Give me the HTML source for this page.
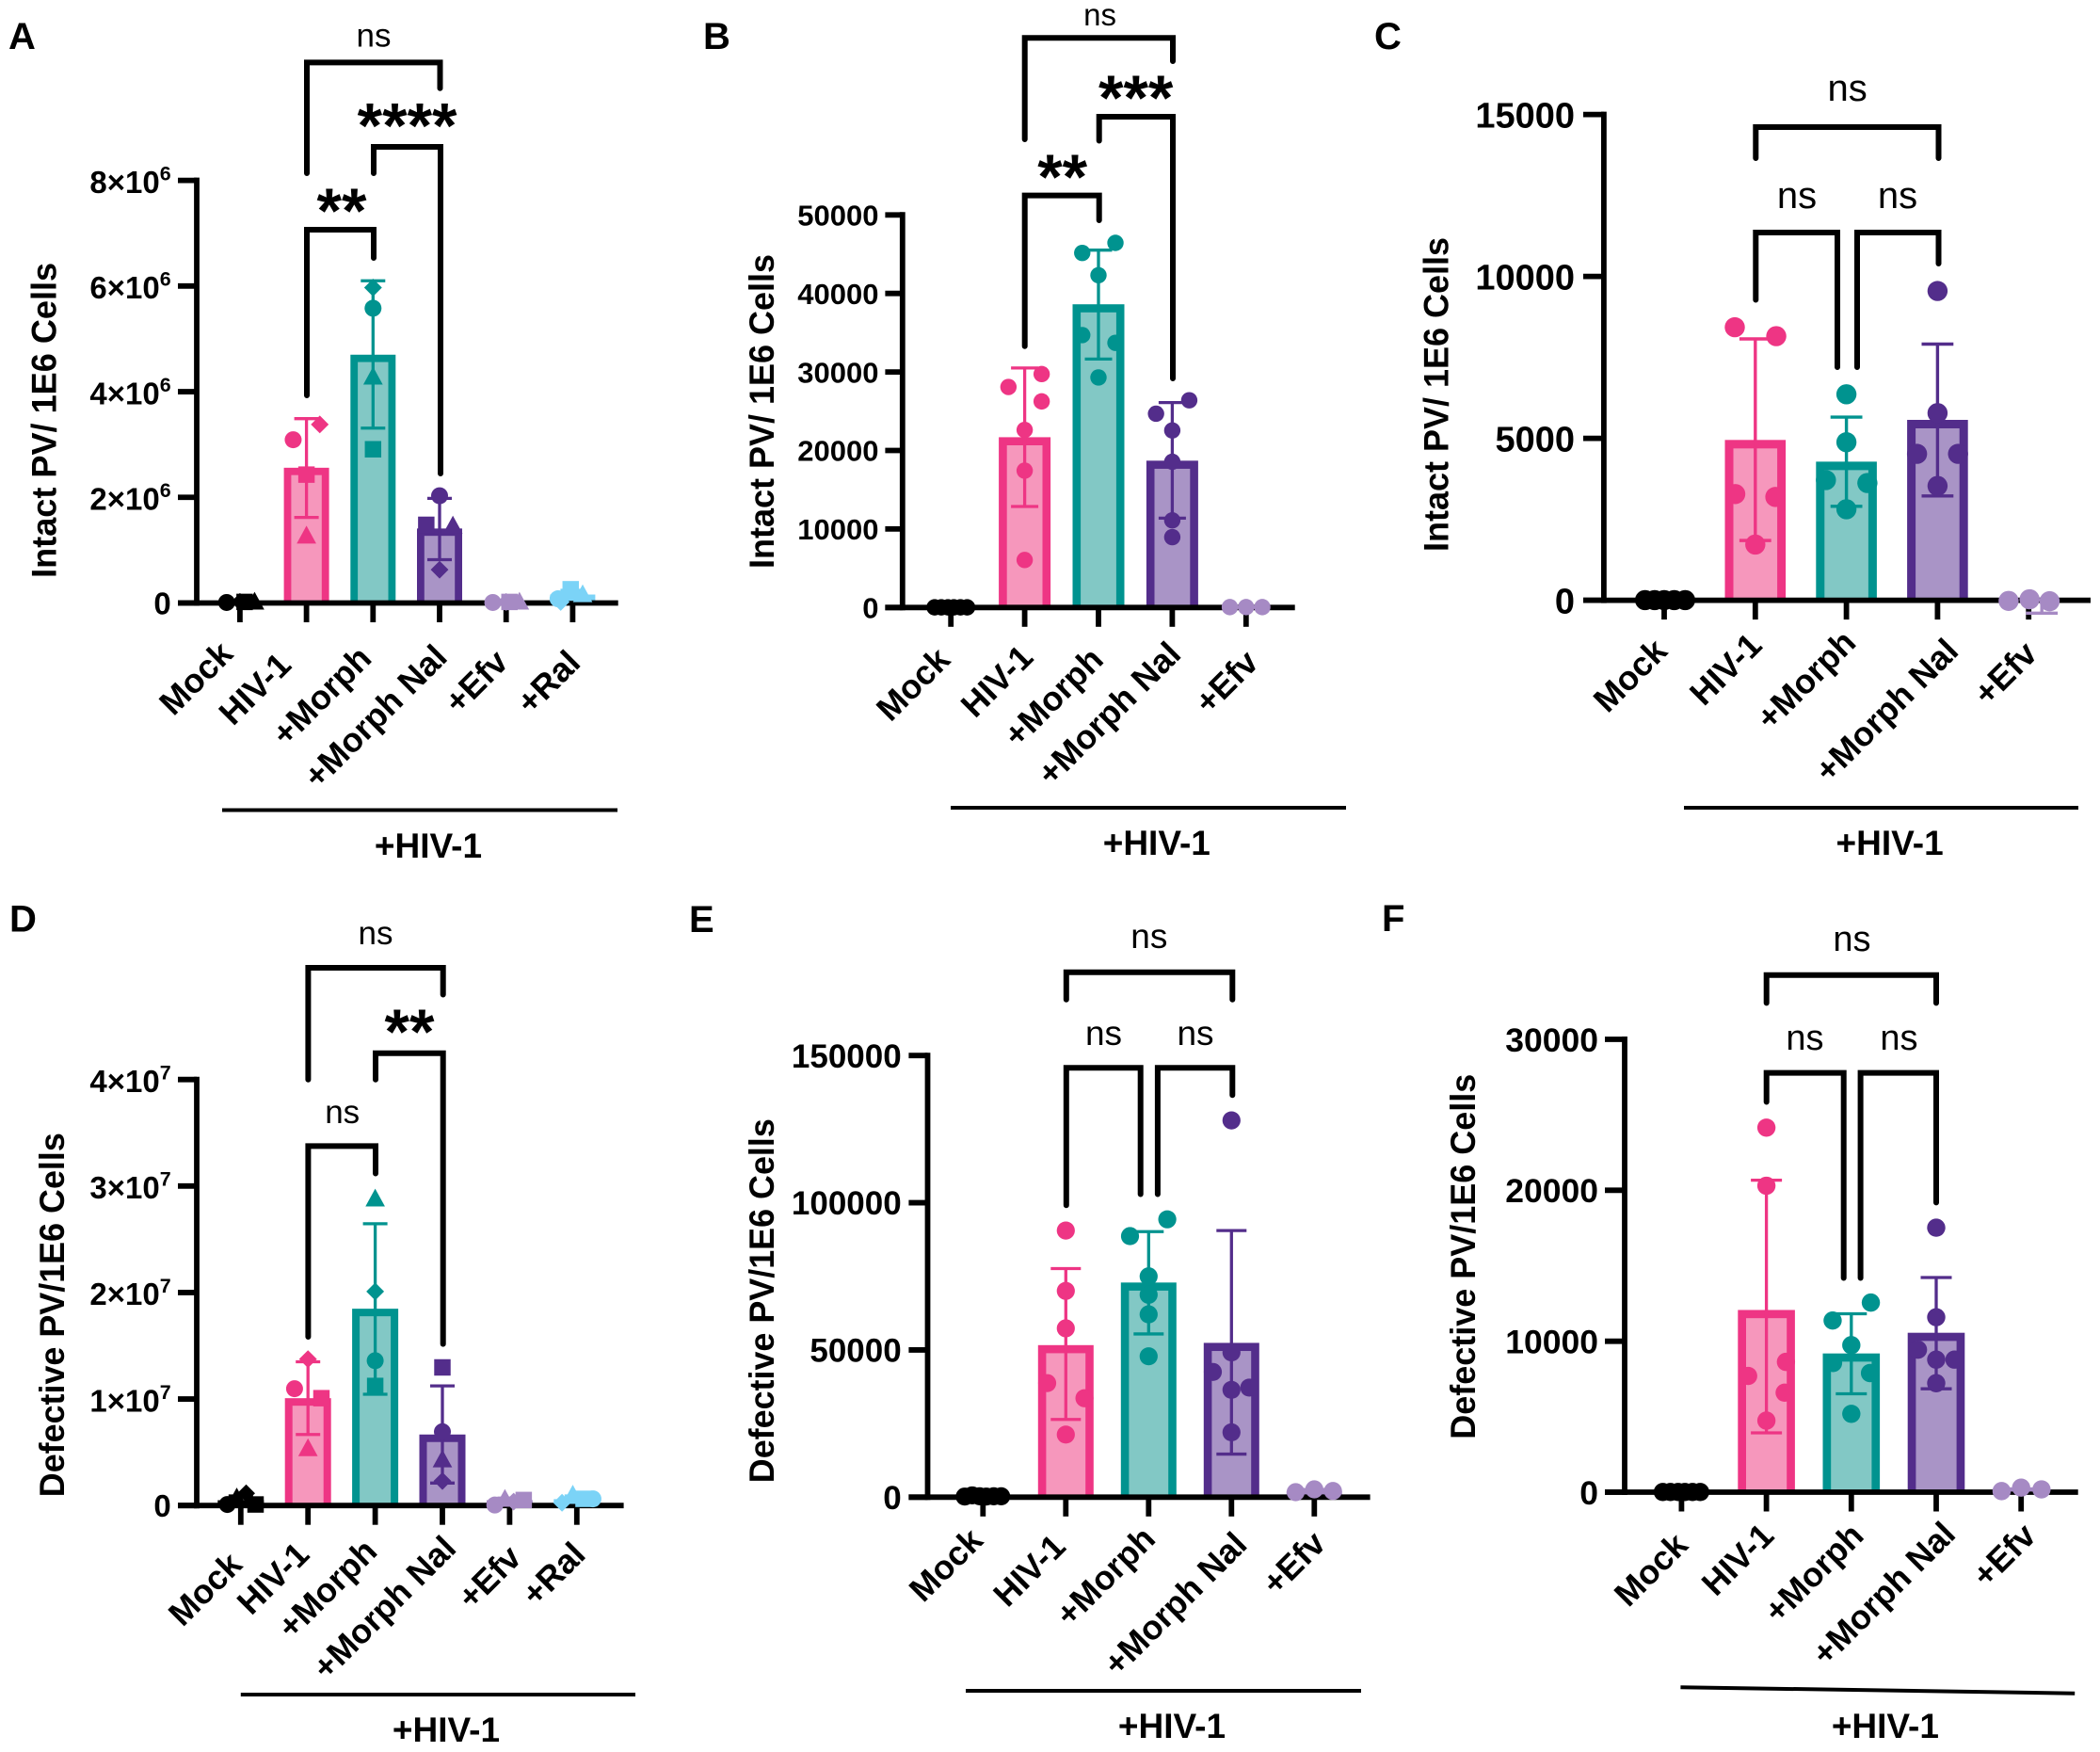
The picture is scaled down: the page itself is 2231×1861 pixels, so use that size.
<!DOCTYPE html>
<html lang="en">
<head>
<meta charset="utf-8">
<title>Intact and defective PV per 1E6 cells</title>
<style>
html,body{margin:0;padding:0;background:#fff;width:2231px;height:1861px;overflow:hidden}
svg{display:block;font-family:"Liberation Sans",sans-serif}
.letter{font-weight:700;font-size:40px}
.ytitle{font-weight:700;font-size:37px;text-anchor:middle}
.ns{font-size:35px;text-anchor:middle}
.stars{font-size:68px;font-weight:700;text-anchor:middle}
.group{font-size:37px;font-weight:700;text-anchor:middle}
.br{fill:none;stroke:#000;stroke-width:6;stroke-linecap:round;stroke-linejoin:miter}
.gl{stroke:#000;stroke-width:4;fill:none}
</style>
</head>
<body>
<svg id="fig" width="2231" height="1861" viewBox="0 0 2231 1861">
<rect width="2231" height="1861" fill="#fff"/>

<g id="panel-a">
<text class="letter" x="9" y="52">A</text>
<text class="ytitle" transform="translate(59.7 446.4) rotate(-90)" textLength="335" lengthAdjust="spacingAndGlyphs">Intact PV/ 1E6 Cells</text>
<path class="br" d="M326 184V66.4H467.5V93.7"/>
<path class="br" d="M397 184V156H468V503"/>
<path class="br" d="M326 420V244H397V274"/>
<text class="ns" x="397" y="49.5">ns</text>
<text class="stars" x="432.6" y="156.5">****</text>
<text class="stars" x="363" y="247">**</text>
<line class="gl" x1="236" y1="860.5" x2="656" y2="860.5"/>
<text class="group" x="455" y="911">+HIV-1</text>
</g>

<g id="panel-b">
<text class="letter" x="747" y="52">B</text>
<text class="ytitle" transform="translate(822 437) rotate(-90)" textLength="334" lengthAdjust="spacingAndGlyphs">Intact PV/ 1E6 Cells</text>
<path class="br" d="M1088.7 148V40.3H1246V65"/>
<path class="br" d="M1167.7 149.5V124H1246V402"/>
<path class="br" d="M1088.7 367.7V207.6H1167.7V234"/>
<text class="ns" x="1168.6" y="27" style="font-size:33px">ns</text>
<text class="stars" x="1206.7" y="127">***</text>
<text class="stars" x="1128.7" y="211">**</text>
<line class="gl" x1="1010" y1="858" x2="1430" y2="858"/>
<text class="group" x="1228.8" y="908">+HIV-1</text>
</g>

<g id="panel-c">
<text class="letter" x="1460" y="52">C</text>
<text class="ytitle" transform="translate(1538.4 419) rotate(-90)" textLength="334" lengthAdjust="spacingAndGlyphs">Intact PV/ 1E6 Cells</text>
<path class="br" d="M1865.3 168V135H2059.5V168"/>
<path class="br" d="M1865.3 318.5V247H1952V390"/>
<path class="br" d="M1973 390V247H2059.5V280"/>
<text class="ns" x="1962.6" y="107" style="font-size:40px">ns</text>
<text class="ns" x="1909" y="221" style="font-size:40px">ns</text>
<text class="ns" x="2016" y="221" style="font-size:40px">ns</text>
<line class="gl" x1="1789" y1="858" x2="2208" y2="858"/>
<text class="group" x="2007.6" y="908">+HIV-1</text>
</g>

<g id="panel-d">
<text class="letter" x="10" y="989.5">D</text>
<text class="ytitle" transform="translate(68 1396.7) rotate(-90)" textLength="387" lengthAdjust="spacingAndGlyphs">Defective PV/1E6 Cells</text>
<path class="br" d="M327.4 1146.7V1028H470.7V1056.5"/>
<path class="br" d="M399 1146.7V1118.8H470.7V1427.6"/>
<path class="br" d="M327.4 1420V1217.4H399V1246.5"/>
<text class="ns" x="399" y="1003">ns</text>
<text class="stars" x="435" y="1119">**</text>
<text class="ns" x="363.7" y="1193">ns</text>
<line class="gl" x1="255.8" y1="1800" x2="675" y2="1800"/>
<text class="group" x="474" y="1850">+HIV-1</text>
</g>

<g id="panel-e">
<text class="letter" x="732" y="990">E</text>
<text class="ytitle" transform="translate(821.9 1381.7) rotate(-90)" textLength="387" lengthAdjust="spacingAndGlyphs">Defective PV/1E6 Cells</text>
<path class="br" d="M1132.8 1061.8V1032.7H1309.3V1061.8"/>
<path class="br" d="M1132.8 1280.3V1134.3H1211.7V1268.5"/>
<path class="br" d="M1229.9 1268.5V1134.3H1309.3V1163.3"/>
<text class="ns" x="1220.8" y="1007" style="font-size:37px">ns</text>
<text class="ns" x="1172.5" y="1110" style="font-size:37px">ns</text>
<text class="ns" x="1270" y="1110" style="font-size:37px">ns</text>
<line class="gl" x1="1026" y1="1796" x2="1446" y2="1796"/>
<text class="group" x="1245" y="1846">+HIV-1</text>
</g>

<g id="panel-f">
<text class="letter" x="1468" y="989">F</text>
<text class="ytitle" transform="translate(1567 1334.7) rotate(-90)" textLength="388" lengthAdjust="spacingAndGlyphs">Defective PV/1E6 Cells</text>
<path class="br" d="M1876.7 1065.4V1035.7H2057V1065.4"/>
<path class="br" d="M1876.7 1170.5V1139.6H1958.7V1357.5"/>
<path class="br" d="M1976.6 1357.5V1139.6H2057V1277.4"/>
<text class="ns" x="1967.4" y="1010" style="font-size:38px">ns</text>
<text class="ns" x="1917.5" y="1115" style="font-size:38px">ns</text>
<text class="ns" x="2017.4" y="1115" style="font-size:38px">ns</text>
<line class="gl" x1="1785.4" y1="1792.2" x2="2204.2" y2="1798.7"/>
<text class="group" x="2002.9" y="1846">+HIV-1</text>
</g>
</svg>

<script>
/* ---------- Panel A ---------- */
const aCategories = ['Mock', 'HIV-1', '+Morph', '+Morph Nal', '+Efv', '+Ral'];
const aYTicks = [0, 2000000, 4000000, 6000000, 8000000];
const aMeans = [20000, 2560000, 4700000, 1410000, 20000, 160000];
const aErrHigh = [30000, 3490000, 6100000, 1980000, 30000, 240000];
const aErrLow = [10000, 1620000, 3310000, 820000, 10000, 70000];
const aPoints = [
  [10000, 20000, 20000, 20000],
  [3090000, 3380000, 2430000, 1270000],
  [5580000, 5970000, 4280000, 2910000],
  [2030000, 1480000, 1460000, 630000],
  [10000, 20000, 20000, 20000],
  [80000, 20000, 260000, 160000]
];
const aJitter = [
  [-0.2, 0, 0.07, 0.22],
  [-0.2, 0.2, 0, 0],
  [0, 0, 0, 0],
  [0, -0.2, 0.2, 0],
  [-0.2, 0, 0.05, 0.2],
  [-0.22, -0.18, -0.03, 0.15]
];
const aShapes = [
  ['c', 'd', 's', 't'],
  ['c', 'd', 's', 't'],
  ['c', 'd', 't', 's'],
  ['c', 's', 't', 'd'],
  ['c', 'd', 's', 't'],
  ['c', 'd', 's', 't']
];

/* ---------- Panel B ---------- */
const bCategories = ['Mock', 'HIV-1', '+Morph', '+Morph Nal', '+Efv'];
const bYTicks = [0, 10000, 20000, 30000, 40000, 50000];
const bMeans = [20, 21690, 38620, 18700, 50];
const bErrHigh = [40, 30510, 45520, 26100, 70];
const bErrLow = [0, 12870, 31650, 11380, 30];
const bPoints = [
  [20, 20, 20, 20, 20, 20],
  [28090, 29730, 26250, 22620, 17430, 6050],
  [45160, 46440, 42320, 34700, 33710, 29300],
  [24680, 26390, 22550, 18560, 11100, 8960],
  [50, 50, 50]
];
const bJitter = [
  [-0.22, -0.13, -0.04, 0.04, 0.13, 0.22],
  [-0.22, 0.23, 0.23, 0, 0, 0],
  [-0.22, 0.23, 0, -0.22, 0.23, 0],
  [-0.22, 0.23, 0, 0, 0, 0],
  [-0.22, 0, 0.22]
];

/* ---------- Panel C ---------- */
const cCategories = ['Mock', 'HIV-1', '+Morph', '+Morph Nal', '+Efv'];
const cYTicks = [0, 5000, 10000, 15000];
const cMeans = [5, 4950, 4280, 5570, 0];
const cErrHigh = [8, 8070, 5655, 7910, 20];
const cErrLow = [2, 1845, 2900, 3220, -400];
const cPoints = [
  [5, 5, 5, 5, 5],
  [8430, 8155, 3280, 3190, 1720],
  [6360, 4880, 3710, 3620, 2810],
  [9550, 5780, 4520, 4520, 3530],
  [-20, 30, -30]
];
const cJitter = [
  [-0.21, -0.105, 0, 0.11, 0.23],
  [-0.225, 0.23, -0.22, 0.22, 0],
  [0, 0, -0.225, 0.23, 0],
  [0, 0, -0.225, 0.225, 0],
  [-0.22, 0.01, 0.23]
];

/* ---------- Panel D ---------- */
const dCategories = ['Mock', 'HIV-1', '+Morph', '+Morph Nal', '+Efv', '+Ral'];
const dYTicks = [0, 10000000, 20000000, 30000000, 40000000];
const dMeans = [500000, 10080000, 18480000, 6670000, 500000, 600000];
const dErrHigh = [900000, 13500000, 26460000, 11230000, 700000, 900000];
const dErrLow = [100000, 6670000, 10450000, 2110000, 300000, 300000];
const dPoints = [
  [100000, 1150000, 100000, 730000],
  [10970000, 13750000, 10080000, 5350000],
  [13600000, 20100000, 11230000, 28800000],
  [6930000, 12970000, 4300000, 2300000],
  [50000, 370000, 520000, 600000],
  [630000, 260000, 630000, 1000000]
];
const dJitter = [
  [-0.2, 0.08, 0.22, -0.06],
  [-0.2, 0, 0.2, 0],
  [0, 0, 0, 0],
  [0, 0, 0, 0],
  [-0.22, 0.06, 0.21, -0.07],
  [0.24, -0.22, 0.1, -0.06]
];
const dShapes = [
  ['c', 'd', 's', 't'],
  ['c', 'd', 's', 't'],
  ['c', 'd', 's', 't'],
  ['c', 's', 't', 'd'],
  ['c', 'd', 's', 't'],
  ['c', 'd', 's', 't']
];

/* ---------- Panel E ---------- */
const eCategories = ['Mock', 'HIV-1', '+Morph', '+Morph Nal', '+Efv'];
const eYTicks = [0, 50000, 100000, 150000];
const eMeans = [300, 51640, 72900, 52400, 2100];
const eErrHigh = [500, 77650, 90180, 90560, 2600];
const eErrLow = [100, 26390, 55440, 14620, 1600];
const ePoints = [
  [200, 600, 300, 200, 300, 300],
  [90560, 70060, 57340, 38730, 33600, 21260],
  [88660, 94360, 74990, 68730, 62080, 47840],
  [127970, 49170, 42530, 37210, 36450, 22020],
  [1700, 2660, 2090]
];
const eJitter = [
  [-0.22, -0.13, -0.04, 0.04, 0.13, 0.22],
  [0, 0, 0, -0.225, 0.225, 0],
  [-0.225, 0.225, 0, 0, 0, 0],
  [0, 0, -0.225, 0.215, 0, 0],
  [-0.225, 0, 0.225]
];

/* ---------- Panel F ---------- */
const fCategories = ['Mock', 'HIV-1', '+Morph', '+Morph Nal', '+Efv'];
const fYTicks = [0, 10000, 20000, 30000];
const fMeans = [10, 12070, 9190, 10560, 180];
const fErrHigh = [15, 20670, 11820, 14220, 220];
const fErrLow = [5, 3930, 6520, 6850, 140];
const fPoints = [
  [10, 10, 10, 10, 10, 10],
  [24150, 20300, 7700, 8630, 6590, 4740],
  [12560, 11370, 9740, 8560, 7890, 5190],
  [17520, 11590, 9440, 8780, 8780, 7220],
  [70, 300, 185]
];
const fJitter = [
  [-0.22, -0.13, -0.04, 0.04, 0.13, 0.22],
  [0, 0, -0.215, 0.23, 0.215, 0],
  [0.23, -0.22, 0, -0.215, 0.22, 0],
  [0, 0, -0.215, 0.215, 0, 0],
  [-0.23, 0, 0.24]
];

/* ---------- Styling per category ---------- */
const categoryColors = {
  'Mock': { dark: '#000000', light: '#000000' },
  'HIV-1': { dark: '#EE3584', light: '#F697BC' },
  '+Morph': { dark: '#00938F', light: '#82C8C5' },
  '+Morph Nal': { dark: '#532D8B', light: '#A994C6' },
  '+Efv': { dark: '#A68AC4', light: '#A68AC4' },
  '+Ral': { dark: '#7BD3F7', light: '#7BD3F7' }
};

const svgNS = document.getElementById('fig').namespaceURI;

function make(tag, attrs, parent) {
  const node = document.createElementNS(svgNS, tag);
  for (const key in attrs) node.setAttribute(key, attrs[key]);
  parent.appendChild(node);
  return node;
}

function slug(text) {
  return text.toLowerCase().replace(/[^a-z0-9]+/g, '-').replace(/^-|-$/g, '');
}

function drawShape(kind, cx, cy, r, color, parent) {
  if (kind === 's') {
    return make('rect', { x: cx - r * 0.97, y: cy - r * 0.97, width: r * 1.94, height: r * 1.94, fill: color }, parent);
  }
  if (kind === 't') {
    return make('polygon', { points: [cx, cy - r * 1.2, cx + r * 1.15, cy + r * 0.9, cx - r * 1.15, cy + r * 0.9].join(' '), fill: color }, parent);
  }
  if (kind === 'd') {
    return make('polygon', { points: [cx, cy - r * 1.05, cx + r * 1.05, cy, cx, cy + r * 1.05, cx - r * 1.05, cy].join(' '), fill: color }, parent);
  }
  return make('circle', { cx: cx, cy: cy, r: r, fill: color }, parent);
}

function drawPanel(layout, categories, yTicks, means, errHigh, errLow, points, jitter, shapes) {
  const root = document.getElementById(layout.id);
  const xScale = function (i) { return layout.firstCat + i * layout.catStep; };
  const yScale = function (v) { return layout.y0 - (v / layout.yMax) * (layout.y0 - layout.yTop); };
  const letter = layout.id.slice(-1);

  /* bars */
  categories.forEach(function (cat, i) {
    const col = categoryColors[cat];
    const cx = xScale(i);
    const top = yScale(means[i]);
    const h = Math.max(0, layout.y0 - top);
    const outer = make('rect', { x: cx - layout.barW / 2, y: top, width: layout.barW, height: h, fill: col.dark }, root);
    
    
    if (h > layout.barStroke) {
      const inner = make('rect', { x: cx - layout.barW / 2 + layout.barStroke, y: top + layout.barStroke, width: layout.barW - 2 * layout.barStroke, height: h - layout.barStroke, fill: col.light }, root);
      
      
    }
  });

  /* axes */
  const yAxis = make('line', { x1: layout.axisX, x2: layout.axisX, y1: layout.yTop - 3, y2: layout.y0 + 3, stroke: '#000', 'stroke-width': 5.8 }, root);
  
  
  const xAxis = make('line', { x1: layout.tickLeft, x2: layout.axisRight, y1: layout.y0, y2: layout.y0, stroke: '#000', 'stroke-width': 5.8 }, root);
  
  

  /* y ticks and labels */
  yTicks.forEach(function (v) {
    const y = yScale(v);
    const tick = make('line', { x1: layout.tickLeft, x2: layout.axisX, y1: y, y2: y, stroke: '#000', 'stroke-width': 5.8 }, root);
    
    
    const isSci = layout.sci && v !== 0;
    const label = make('text', { x: layout.labelRight, y: y + layout.tickFont * (isSci ? 0.4 : 0.36), 'text-anchor': 'end', 'font-size': layout.tickFont, 'font-weight': 700 }, root);
    
    
    if (isSci) {
      const exp = Math.floor(Math.log10(v));
      label.textContent = Math.round(v / Math.pow(10, exp)) + '\u00D710';
      const sup = make('tspan', { dy: -13.3, 'font-size': layout.tickFont * 0.65 }, label);
      sup.textContent = String(exp);
    } else {
      label.textContent = String(v);
    }
  });

  /* x ticks and labels */
  categories.forEach(function (cat, i) {
    const cx = xScale(i);
    const tick = make('line', { x1: cx, x2: cx, y1: layout.y0, y2: layout.y0 + 20.5, stroke: '#000', 'stroke-width': 5.8 }, root);
    
    
    const lx = cx + layout.labelDx[i];
    const ly = layout.y0 + layout.labelDy[i];
    const label = make('text', { transform: 'translate(' + lx + ' ' + ly + ') rotate(-45)', 'text-anchor': 'end', 'font-size': 36, 'font-weight': 700 }, root);
    
    
    label.textContent = cat;
  });

  /* error bars */
  categories.forEach(function (cat, i) {
    const col = categoryColors[cat];
    const ex = xScale(i) + (layout.errShift ? layout.errShift[i] : 0);
    const yHi = yScale(errHigh[i]);
    const yLo = yScale(errLow[i]);
    const stem = make('line', { x1: ex, x2: ex, y1: yHi, y2: yLo, stroke: col.dark, 'stroke-width': layout.errW }, root);
    
    
    [yHi, yLo].forEach(function (yc) {
      const cap = make('line', { x1: ex - layout.capW / 2, x2: ex + layout.capW / 2, y1: yc, y2: yc, stroke: col.dark, 'stroke-width': layout.errW }, root);
      
      
    });
  });

  /* data points */
  categories.forEach(function (cat, i) {
    const col = categoryColors[cat];
    points[i].forEach(function (v, j) {
      const kind = shapes ? shapes[i][j] : 'c';
      const px = xScale(i) + jitter[i][j] * layout.catStep;
      const mark = drawShape(kind, px, yScale(v), layout.r, col.dark, root);
      
      
    });
  });
}

drawPanel({
  id: 'panel-a', axisX: 209, tickLeft: 189, axisRight: 656.7, labelRight: 181.7, yTop: 191.6, y0: 640.5, yMax: 8000000,
  firstCat: 254.9, catStep: 70.7, barW: 48, barStroke: 7.8, capW: 26, errW: 3.3, r: 9, tickFont: 33, sci: true,
  labelDx: [-5.6, -14.3, 0.3, 10, 4, 10], labelDy: [56, 68, 61, 59.5, 65, 65.5]
}, aCategories, aYTicks, aMeans, aErrHigh, aErrLow, aPoints, aJitter, aShapes);

drawPanel({
  id: 'panel-b', axisX: 958.8, tickLeft: 940.4, axisRight: 1375.7, labelRight: 933.5, yTop: 228.3, y0: 645.3, yMax: 50000,
  firstCat: 1010.2, catStep: 78.4, barW: 55, barStroke: 8.6, capW: 29, errW: 3.3, r: 8.7, tickFont: 31, sci: false,
  labelDx: [1, 11, 7, 11, 15], labelDy: [57.5, 55, 57.5, 51.6, 60.5]
}, bCategories, bYTicks, bMeans, bErrHigh, bErrLow, bPoints, bJitter, null);

drawPanel({
  id: 'panel-c', axisX: 1703.9, tickLeft: 1682, axisRight: 2221, labelRight: 1673, yTop: 121.6, y0: 637.6, yMax: 15000,
  firstCat: 1768, catStep: 96.8, barW: 64.6, barStroke: 9, capW: 33.8, errW: 3.4, r: 10.7, tickFont: 38, sci: false,
  labelDx: [5, 9, 12, 24, 11], labelDy: [56, 50, 47, 56, 59], errShift: [0, 0, 0, 0, 14]
}, cCategories, cYTicks, cMeans, cErrHigh, cErrLow, cPoints, cJitter, null);

drawPanel({
  id: 'panel-d', axisX: 209, tickLeft: 189, axisRight: 662.6, labelRight: 181.7, yTop: 1146.7, y0: 1599.2, yMax: 40000000,
  firstCat: 255.8, catStep: 71.4, barW: 49, barStroke: 8, capW: 26, errW: 3.3, r: 9, tickFont: 33, sci: true,
  labelDx: [3.3, 3.4, 4, 16.4, 14.3, 11], labelDy: [64.8, 54.1, 50.8, 47.5, 57.5, 54.1]
}, dCategories, dYTicks, dMeans, dErrHigh, dErrLow, dPoints, dJitter, dShapes);

drawPanel({
  id: 'panel-e', axisX: 985.5, tickLeft: 965.4, axisRight: 1455.6, labelRight: 957.7, yTop: 1121.2, y0: 1590.3, yMax: 150000,
  firstCat: 1044.3, catStep: 88, barW: 59, barStroke: 8.6, capW: 32, errW: 3.3, r: 9.6, tickFont: 35, sci: false,
  labelDx: [1.7, 1.7, 9, 18.4, 14], labelDy: [48, 54.7, 46.4, 52.4, 51.4]
}, eCategories, eYTicks, eMeans, eErrHigh, eErrLow, ePoints, eJitter, null);

drawPanel({
  id: 'panel-f', axisX: 1726, tickLeft: 1705, axisRight: 2207.7, labelRight: 1698, yTop: 1104, y0: 1585, yMax: 30000,
  firstCat: 1786.4, catStep: 90.2, barW: 60.6, barStroke: 8.7, capW: 33, errW: 3.3, r: 9.7, tickFont: 35.5, sci: false,
  labelDx: [8.7, 10, 15, 22.3, 17.7], labelDy: [58.3, 48.3, 48.3, 46.7, 48.3]
}, fCategories, fYTicks, fMeans, fErrHigh, fErrLow, fPoints, fJitter, null);
</script>
</body>
</html>
